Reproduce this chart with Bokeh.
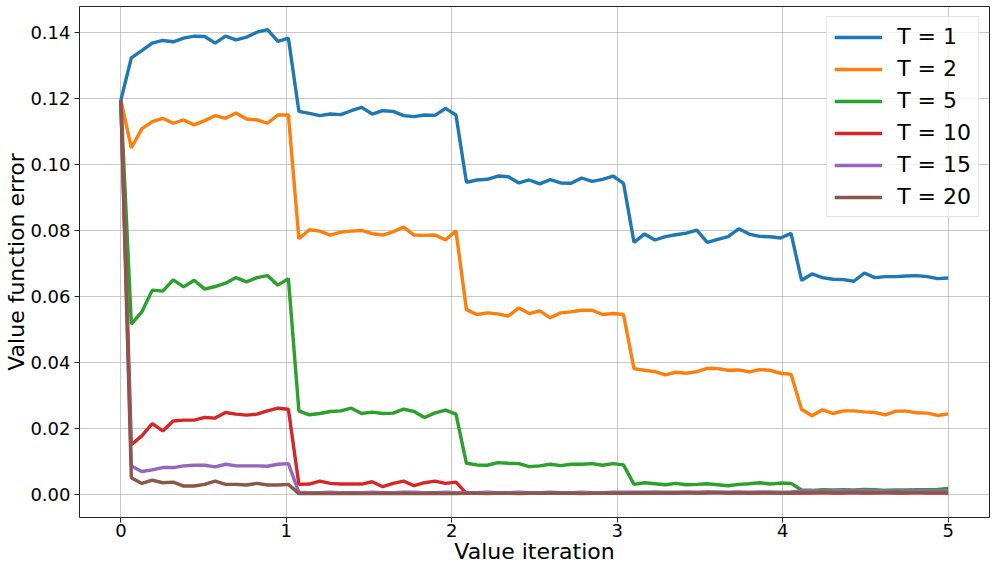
import numpy as np
from bokeh.plotting import figure
from bokeh.models import Legend, LegendItem, FixedTicker, NumeralTickFormatter, Range1d
from bokeh.embed import file_html
from bokeh.resources import INLINE

# 80 value-iteration checkpoints from 0 to 5
iterations = np.linspace(0, 5, 80)

labels = ["T = 1", "T = 2", "T = 5", "T = 10", "T = 15", "T = 20"]
colors = ["#1f77b4", "#ff7f0e", "#2ca02c", "#d62728", "#9467bd", "#8c564b"]

err_T1 = [
    0.1195, 0.1323, 0.1345, 0.1368, 0.1376, 0.1372, 0.1383, 0.1389, 0.1388, 0.1368,
    0.1389, 0.1378, 0.1386, 0.1401, 0.1409, 0.1373, 0.1383,
    0.1161, 0.1155, 0.1148, 0.1153, 0.1151, 0.1163, 0.1173, 0.1153, 0.1163, 0.1161,
    0.1148, 0.1145, 0.1150, 0.1149, 0.1170, 0.1150,
    0.0946, 0.0953, 0.0955, 0.0965, 0.0963, 0.0944, 0.0953, 0.0941, 0.0954, 0.0944,
    0.0943, 0.0959, 0.0949, 0.0955, 0.0965, 0.0943,
    0.0764, 0.0789, 0.0771, 0.0781, 0.0787, 0.0792, 0.0801, 0.0764, 0.0773, 0.0781,
    0.0805, 0.0789, 0.0782, 0.0781, 0.0777, 0.0791,
    0.0649, 0.0668, 0.0657, 0.0652, 0.0651, 0.0646, 0.0671, 0.0657, 0.0660, 0.0660,
    0.0662, 0.0663, 0.0660, 0.0654, 0.0656,
]
err_T2 = [
    0.1195, 0.1050, 0.1108, 0.1130, 0.1140, 0.1125, 0.1135, 0.1120, 0.1133, 0.1148,
    0.1140, 0.1156, 0.1138, 0.1135, 0.1125, 0.1150, 0.1150,
    0.0775, 0.0802, 0.0798, 0.0786, 0.0795, 0.0798, 0.0800, 0.0790, 0.0786, 0.0796,
    0.0810, 0.0786, 0.0785, 0.0786, 0.0771, 0.0799,
    0.0560, 0.0545, 0.0550, 0.0547, 0.0540, 0.0565, 0.0548, 0.0556, 0.0535, 0.0550,
    0.0553, 0.0558, 0.0558, 0.0545, 0.0548, 0.0545,
    0.0381, 0.0376, 0.0372, 0.0362, 0.0370, 0.0367, 0.0372, 0.0382, 0.0381, 0.0376,
    0.0377, 0.0371, 0.0378, 0.0376, 0.0367, 0.0364,
    0.0258, 0.0238, 0.0256, 0.0245, 0.0253, 0.0253, 0.0250, 0.0248, 0.0241, 0.0252,
    0.0252, 0.0247, 0.0246, 0.0239, 0.0244,
]
err_T5 = [
    0.1195, 0.0516, 0.0553, 0.0619, 0.0616, 0.0650, 0.0629, 0.0649, 0.0622, 0.0630,
    0.0640, 0.0657, 0.0644, 0.0657, 0.0663, 0.0634, 0.0654,
    0.0253, 0.0241, 0.0245, 0.0251, 0.0253, 0.0261, 0.0245, 0.0249, 0.0245, 0.0246,
    0.0258, 0.0251, 0.0233, 0.0247, 0.0255, 0.0243,
    0.0094, 0.0089, 0.0088, 0.0096, 0.0094, 0.0093, 0.0084, 0.0086, 0.0091, 0.0087,
    0.0091, 0.0091, 0.0093, 0.0088, 0.0093, 0.0089,
    0.0030, 0.0035, 0.0032, 0.0029, 0.0033, 0.0029, 0.0030, 0.0032, 0.0029, 0.0026,
    0.0030, 0.0032, 0.0035, 0.0031, 0.0034, 0.0033,
    0.0013, 0.0012, 0.0014, 0.0013, 0.0014, 0.0013, 0.0015, 0.0014, 0.0012, 0.0013,
    0.0013, 0.0014, 0.0014, 0.0015, 0.0018,
]
err_T10 = [
    0.1195, 0.0150, 0.0177, 0.0214, 0.0192, 0.0222, 0.0225, 0.0225, 0.0233, 0.0231,
    0.0248, 0.0243, 0.0240, 0.0243, 0.0253, 0.0261, 0.0258,
    0.0030, 0.0031, 0.0040, 0.0033, 0.0031, 0.0031, 0.0031, 0.0038, 0.0023, 0.0033,
    0.0040, 0.0026, 0.0035, 0.0040, 0.0033, 0.0037,
    0.0003, 0.0004, 0.0004, 0.0005, 0.0004, 0.0004, 0.0005, 0.0004, 0.0004, 0.0005,
    0.0004, 0.0004, 0.0003, 0.0004, 0.0005, 0.0004,
    0.0004, 0.0004, 0.0005, 0.0004, 0.0004, 0.0005, 0.0004, 0.0006, 0.0005, 0.0004,
    0.0005, 0.0004, 0.0004, 0.0005, 0.0004, 0.0004,
    0.0004, 0.0004, 0.0005, 0.0004, 0.0004, 0.0005, 0.0004, 0.0004, 0.0005, 0.0004,
    0.0004, 0.0005, 0.0004, 0.0004, 0.0004,
]
err_T15 = [
    0.1195, 0.0086, 0.0069, 0.0074, 0.0081, 0.0081, 0.0086, 0.0088, 0.0088, 0.0083,
    0.0091, 0.0086, 0.0086, 0.0086, 0.0085, 0.0091, 0.0093,
    0.0006, 0.0005, 0.0005, 0.0006, 0.0005, 0.0005, 0.0005, 0.0006, 0.0005, 0.0005,
    0.0006, 0.0006, 0.0005, 0.0005, 0.0006, 0.0005,
    0.0005, 0.0005, 0.0006, 0.0005, 0.0005, 0.0006, 0.0005, 0.0005, 0.0006, 0.0005,
    0.0005, 0.0006, 0.0005, 0.0005, 0.0006, 0.0006,
    0.0006, 0.0006, 0.0007, 0.0006, 0.0006, 0.0007, 0.0006, 0.0007, 0.0007, 0.0006,
    0.0007, 0.0006, 0.0007, 0.0007, 0.0006, 0.0007,
    0.0010, 0.0011, 0.0010, 0.0011, 0.0010, 0.0011, 0.0011, 0.0010, 0.0009, 0.0010,
    0.0010, 0.0011, 0.0010, 0.0010, 0.0010,
]
err_T20 = [
    0.1195, 0.0050, 0.0033, 0.0043, 0.0035, 0.0037, 0.0025, 0.0025, 0.0030, 0.0040,
    0.0030, 0.0030, 0.0028, 0.0033, 0.0028, 0.0028, 0.0030,
    0.0002, 0.0002, 0.0003, 0.0002, 0.0002, 0.0003, 0.0002, 0.0002, 0.0003, 0.0002,
    0.0003, 0.0002, 0.0002, 0.0003, 0.0002, 0.0002,
    0.0003, 0.0003, 0.0002, 0.0003, 0.0003, 0.0002, 0.0003, 0.0003, 0.0004, 0.0003,
    0.0003, 0.0002, 0.0003, 0.0003, 0.0003, 0.0003,
    0.0004, 0.0004, 0.0003, 0.0004, 0.0004, 0.0005, 0.0004, 0.0004, 0.0005, 0.0004,
    0.0004, 0.0004, 0.0005, 0.0004, 0.0004, 0.0004,
    0.0005, 0.0005, 0.0006, 0.0005, 0.0005, 0.0006, 0.0005, 0.0005, 0.0005, 0.0006,
    0.0005, 0.0005, 0.0005, 0.0005, 0.0005,
]
series = [err_T1, err_T2, err_T5, err_T10, err_T15, err_T20]

x_ticks = [0, 1, 2, 3, 4, 5]
y_ticks = [0.00, 0.02, 0.04, 0.06, 0.08, 0.10, 0.12, 0.14]
x_title = "Value iteration"
y_title = "Value function error"

FONT = "DejaVu Sans"

p = figure(width=990, height=566, output_backend="svg", toolbar_location=None,
           x_range=Range1d(-0.25, 5.25), y_range=Range1d(-0.00704, 0.1479),
           min_border_left=79, min_border_right=1, min_border_top=6, min_border_bottom=46)

p.outline_line_color = "#222222"
p.outline_line_width = 1
p.background_fill_color = "white"
p.border_fill_color = "white"

for ax in (p.xaxis[0], p.yaxis[0]):
    ax.axis_line_color = None
    ax.major_tick_line_color = "#222222"
    ax.major_tick_out = 5
    ax.major_tick_in = 0
    ax.minor_tick_line_color = None
    ax.major_label_text_font = FONT
    ax.major_label_text_font_size = "18px"
    ax.major_label_text_color = "black"
    ax.axis_label_text_font = FONT
    ax.axis_label_text_font_size = "22px"
    ax.axis_label_text_font_style = "normal"
    ax.axis_label_text_color = "black"

p.xaxis[0].ticker = FixedTicker(ticks=x_ticks)
p.yaxis[0].ticker = FixedTicker(ticks=y_ticks)
p.yaxis[0].formatter = NumeralTickFormatter(format="0.00")
p.xaxis[0].axis_label = x_title
p.yaxis[0].axis_label = y_title
p.xaxis[0].major_label_standoff = 1
p.yaxis[0].major_label_standoff = 4
p.xaxis[0].axis_label_standoff = -1
p.yaxis[0].axis_label_standoff = -2

p.xgrid.ticker = FixedTicker(ticks=x_ticks)
p.ygrid.ticker = FixedTicker(ticks=y_ticks)
for g in (p.xgrid[0], p.ygrid[0]):
    g.grid_line_color = "#b0b0b0"
    g.grid_line_alpha = 0.7
    g.grid_line_width = 1

items = []
for lab, col, ys in zip(labels, colors, series):
    r = p.line(iterations, ys, line_color=col, line_width=3.4)
    items.append(LegendItem(label=lab, renderers=[r]))

legend = Legend(items=items, location="top_right")
legend.label_text_font = FONT
legend.label_text_font_size = "22px"
legend.label_text_color = "black"
legend.glyph_width = 48
legend.glyph_height = 20
legend.label_height = 20
legend.label_standoff = 15
legend.spacing = 7
legend.padding = 7
legend.margin = 10
legend.border_line_color = "#cccccc"
legend.border_line_width = 1
legend.background_fill_color = "white"
legend.background_fill_alpha = 0.8
p.add_layout(legend)

open("out.html", "w").write(file_html(p, INLINE))
